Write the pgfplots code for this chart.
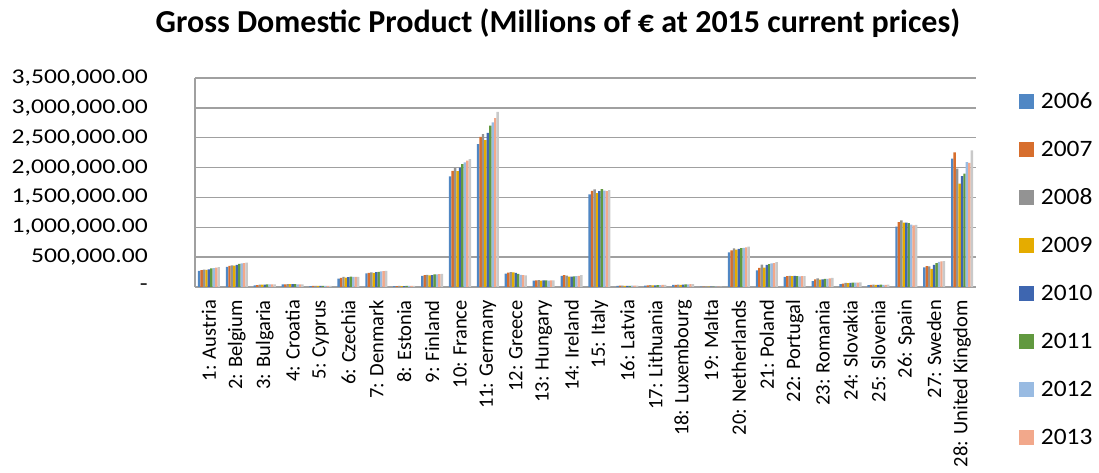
\documentclass[border=0pt]{standalone}
\usepackage{pgfplots}
\pgfplotsset{compat=1.18}
\usepackage{pgfplotstable}
\usepackage{fontspec}
\setmainfont{Carlito}
\newfontfamily\tickfont[FakeStretch=1.22]{Carlito}
\newfontfamily\legfont[FakeStretch=1.08]{Carlito}
\definecolor{c1}{HTML}{5087C4}
\definecolor{c2}{HTML}{D76E2D}
\definecolor{c3}{HTML}{939393}
\definecolor{c4}{HTML}{E5AC00}
\definecolor{c5}{HTML}{3E66B0}
\definecolor{c6}{HTML}{61993F}
\definecolor{c7}{HTML}{99BBE2}
\definecolor{c8}{HTML}{F2A88B}
\definecolor{c9}{HTML}{C9C9C9}
\definecolor{gridgray}{HTML}{A0A0A0}

\pgfplotstableread{
idx a b c d e f g h i
0 268000 283000 292000 285000 296000 310000 318000 323000 332000
1 335000 352000 363000 356000 372000 387000 395000 400000 408000
2 28000 33000 38000 38000 39000 42000 43000 43000 44000
3 42000 46000 50000 47000 47000 47000 46000 46000 45000
4 16000 17000 19000 18000 19000 20000 19000 18000 18000
5 140000 152000 170000 158000 165000 172000 170000 168000 168000
6 228000 238000 245000 235000 250000 255000 262000 266000 272000
7 14000 16000 17000 14000 15000 17000 18000 19000 20000
8 185000 198000 205000 195000 200000 210000 213000 215000 218000
9 1853000 1946000 1996000 1939000 1998000 2059000 2086000 2116000 2141000
10 2393000 2513000 2562000 2460000 2580000 2703000 2758000 2826000 2932000
11 225000 240000 248000 243000 235000 220000 205000 198000 196000
12 105000 110000 115000 105000 110000 112000 108000 110000 112000
13 185000 198000 190000 172000 172000 178000 182000 188000 200000
14 1549000 1610000 1633000 1573000 1605000 1638000 1613000 1604000 1621000
15 17000 22000 24000 19000 18000 20000 22000 23000 24000
16 24000 29000 32000 27000 28000 31000 33000 35000 37000
17 34000 37000 38000 37000 40000 43000 44000 47000 50000
18 5000 6000 6000 6000 7000 7000 7000 8000 8000
19 580000 615000 645000 625000 640000 652000 655000 665000 675000
20 280000 320000 375000 325000 370000 385000 395000 400000 415000
21 170000 180000 185000 180000 185000 182000 178000 180000 182000
22 100000 128000 145000 122000 128000 135000 135000 145000 152000
23 47000 57000 68000 64000 68000 72000 74000 75000 77000
24 33000 36000 39000 37000 37000 38000 37000 37000 38000
25 1010000 1085000 1116000 1080000 1080000 1070000 1045000 1030000 1040000
26 330000 350000 345000 305000 370000 400000 420000 430000 435000
27 2150000 2255000 1983000 1733000 1855000 1900000 2093000 2077000 2288000
}\gdp

\begin{document}
\begin{tikzpicture}
\useasboundingbox (0,0) rectangle (1099pt,473pt);
\node[font=\bfseries\fontsize{32}{32}\selectfont, anchor=base] at (558pt,440pt) {Gross Domestic Product (Millions of € at 2015 current prices)};
\begin{axis}[
  at={(195pt,186pt)}, anchor=south west,
  scale only axis, width=781pt, height=209pt,
  ybar=0pt, bar width=2.45pt,
  xmin=-0.5, xmax=27.5, ymin=0, ymax=3500000,
  xtick={0,...,27},
  xticklabels={1: Austria,2: Belgium,3: Bulgaria,4: Croatia,5: Cyprus,6: Czechia,7: Denmark,8: Estonia,9: Finland,10: France,11: Germany,12: Greece,13: Hungary,14: Ireland,15: Italy,16: Latvia,17: Lithuania,18: Luxembourg,19: Malta,20: Netherlands,21: Poland,22: Portugal,23: Romania,24: Slovakia,25: Slovenia,26: Spain,27: Sweden,28: United Kingdom},
  xticklabel style={font=\fontsize{20.5}{20.5}\selectfont, yshift=-13pt, rotate=90, anchor=east, inner sep=0pt},
  ytick={0,500000,1000000,1500000,2000000,2500000,3000000,3500000},
  yticklabels={{-},{500,000.00},{1,000,000.00},{1,500,000.00},{2,000,000.00},{2,500,000.00},{3,000,000.00},{3,500,000.00}},
  yticklabel style={font=\tickfont\fontsize{21}{21}\selectfont, anchor=east, inner sep=0pt, xshift=-47pt},
  scaled y ticks=false,
  ymajorgrids, grid style={draw=gridgray, line width=1.3pt},
  axis x line*=bottom, axis y line*=left,
  axis line style={draw=gridgray, line width=1.3pt, -},
  major tick length=0pt,
  every axis plot/.append style={draw=none},
  legend image code/.code={\path[#1] (0pt,-7.5pt) rectangle (15pt,7.5pt);},
  legend style={at={(axis description cs:1.055,0.086)}, anchor=west, draw=none, fill=none,
    inner sep=0pt, outer sep=0pt, row sep=33pt,
    font=\legfont\fontsize{23.5}{23.5}\selectfont,
    nodes={inner sep=0pt, text height=15pt, text depth=0pt},
    /tikz/every odd column/.append style={column sep=7pt}},
]
\addplot[fill=c1] table[x=idx,y=a]{\gdp};
\addplot[fill=c2] table[x=idx,y=b]{\gdp};
\addplot[fill=c3] table[x=idx,y=c]{\gdp};
\addplot[fill=c4] table[x=idx,y=d]{\gdp};
\addplot[fill=c5] table[x=idx,y=e]{\gdp};
\addplot[fill=c6] table[x=idx,y=f]{\gdp};
\addplot[fill=c7] table[x=idx,y=g]{\gdp};
\addplot[fill=c8] table[x=idx,y=h]{\gdp};
\addplot[fill=c9] table[x=idx,y=i]{\gdp};
\legend{2006,2007,2008,2009,2010,2011,2012,2013}
\end{axis}
\end{tikzpicture}
\end{document}
